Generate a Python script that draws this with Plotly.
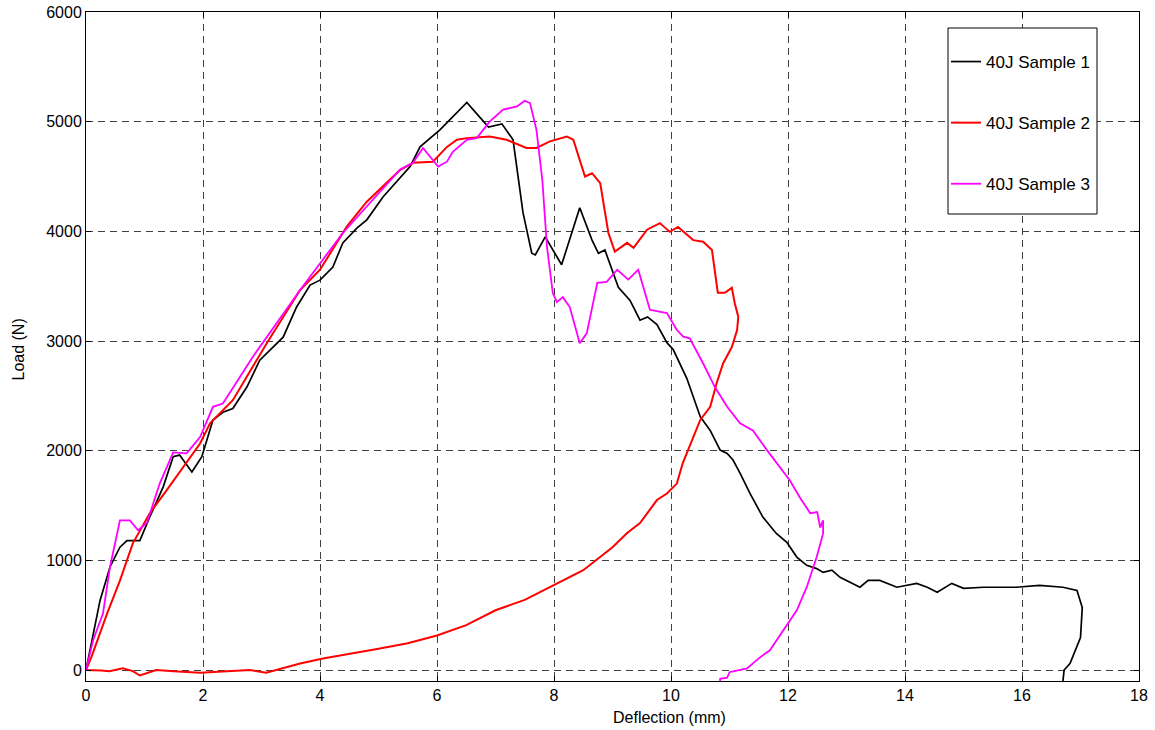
import plotly.graph_objects as go

# ---- data ----
s1_x = [0, 0.12, 0.24, 0.41, 0.58, 0.7, 0.92, 1.09, 1.32, 1.49, 1.6, 1.81, 1.98, 2.17, 2.34, 2.51, 2.75,
        2.97, 3.2, 3.37, 3.6, 3.83, 4.0, 4.22, 4.39, 4.63, 4.8, 5.08, 5.54, 5.71, 6.05, 6.3, 6.51, 6.7,
        6.88, 7.11, 7.3, 7.47, 7.62, 7.68, 7.85, 8.13, 8.44, 8.65, 8.76, 8.87, 9.1, 9.3, 9.47, 9.6, 9.76,
        9.93, 10.04, 10.27, 10.5, 10.67, 10.84, 10.96, 11.06, 11.18, 11.35, 11.57, 11.8, 11.98, 12.15,
        12.32, 12.49, 12.6, 12.75, 12.89, 13.06, 13.23, 13.37, 13.57, 13.86, 14.2, 14.38, 14.55, 14.8,
        15.0, 15.34, 15.9, 16.3, 16.7, 16.94, 17.03, 17.0, 16.82, 16.72, 16.7]
s1_y = [0, 330, 635, 940, 1120, 1180, 1180, 1395, 1670, 1945, 1960, 1805, 1945, 2280, 2350, 2385, 2580,
        2825, 2945, 3035, 3310, 3510, 3555, 3675, 3895, 4030, 4105, 4315, 4590, 4770, 4925, 5060, 5175, 5060,
        4950, 4980, 4835, 4170, 3800, 3785, 3950, 3695, 4215, 3920, 3800, 3830, 3490, 3370, 3190, 3220, 3150,
        2985, 2920, 2660, 2310, 2185, 2005, 1975, 1915, 1795, 1610, 1395, 1245, 1165, 1030,
        955, 925, 890, 910, 845, 800, 755, 817, 817, 755, 790, 755, 710, 790,
        745, 755, 755, 772, 755, 725, 570, 297, 60, 0, -100]

s2_x = [0, 0.1, 0.36, 0.58, 0.8, 1.09, 1.38, 1.66, 1.95, 2.12, 2.51, 3.09, 3.66, 4.0, 4.46, 4.8, 5.37,
        5.59, 5.93, 6.17, 6.34, 6.51, 6.9, 7.19, 7.53, 7.7, 7.93, 8.22, 8.33, 8.53, 8.65, 8.79, 8.93,
        9.04, 9.25, 9.36, 9.59, 9.81, 9.98, 10.12, 10.38, 10.55, 10.7, 10.8, 10.92, 11.04, 11.09, 11.15,
        11.13, 11.04, 10.89, 10.78, 10.67, 10.5, 10.38, 10.2, 10.1, 9.93, 9.76, 9.47, 9.25, 9.0, 8.5,
        8.0, 7.5, 7.0, 6.5, 6.0, 5.5, 5.0, 4.5, 4.05, 3.66, 3.08, 2.8, 2.5, 1.95, 1.5, 1.2, 0.92, 0.8,
        0.63, 0.4, 0.26, 0]
s2_y = [0, 130, 515, 815, 1155, 1430, 1640, 1850, 2065, 2250, 2460, 2980, 3465, 3650, 4045, 4270, 4560,
        4625, 4635, 4770, 4835, 4850, 4865, 4835, 4760, 4760, 4820, 4865, 4835, 4500, 4530, 4440, 3985,
        3815, 3895, 3850, 4015, 4075, 3995, 4040, 3920, 3905, 3830, 3440, 3440, 3485, 3345, 3220,
        3100, 2945, 2795, 2615, 2400, 2280, 2125, 1885, 1700, 1610, 1550, 1340, 1250, 1120, 910,
        775, 640, 545, 410, 315, 245, 195, 150, 105, 60, -25, 0, -10, -25, -10, 0, -50, -10,
        15, -10, -5, 0]

s3_x = [0, 0.12, 0.29, 0.41, 0.58, 0.75, 0.89, 1.04, 1.26, 1.49, 1.72, 1.95, 2.17, 2.34, 2.85, 3.66,
        4.39, 4.8, 5.37, 5.59, 5.76, 6.02, 6.17, 6.27, 6.51, 6.68, 6.9, 7.13, 7.37, 7.5, 7.59, 7.7, 7.8,
        7.88, 7.98, 8.05, 8.15, 8.27, 8.44, 8.56, 8.74, 8.9, 9.08, 9.27, 9.44, 9.64, 9.93, 10.1, 10.21,
        10.32, 10.55, 10.75, 10.96, 11.18, 11.4, 11.64, 11.86, 12.03, 12.2, 12.38, 12.5, 12.55, 12.6,
        12.6, 12.49, 12.32, 12.15, 11.92, 11.69, 11.52, 11.3, 11.0, 10.96, 10.84, 10.84]
s3_y = [0, 270, 515, 940, 1365, 1365, 1275, 1340, 1700, 1985, 1975, 2125, 2400, 2430, 2855, 3465,
        3985, 4225, 4565, 4625, 4760, 4590, 4635, 4725, 4835, 4850, 5000, 5110, 5140, 5190, 5170, 4925, 4470,
        3860, 3435, 3355, 3400, 3310, 2980, 3070, 3530, 3540, 3650, 3560, 3650, 3285, 3255, 3100, 3040,
        3025, 2795, 2580, 2400, 2250, 2185, 2005, 1850, 1730, 1575, 1430, 1440, 1300, 1365,
        1245, 1030, 755, 545, 360, 180, 115, 15, -20, -70, -80, -100]

names = ["40J Sample 1", "40J Sample 2", "40J Sample 3"]
colors = ["#000000", "#FF0000", "#FF00FF"]
widths = [1.7, 2.0, 1.8]
x_ticks = list(range(0, 19, 2))
y_ticks = list(range(0, 6001, 1000))
x_title = "Deflection (mm)"
y_title = "Load (N)"

FONT = "Liberation Sans, Arial, Helvetica, sans-serif"

fig = go.Figure()
for i, (xs, ys) in enumerate([(s1_x, s1_y), (s2_x, s2_y), (s3_x, s3_y)]):
    fig.add_trace(go.Scatter(x=xs, y=ys, mode="lines", name=names[i],
                             legendgroup=f"g{i}",
                             line=dict(color=colors[i], width=widths[i])))

W, H = 1155, 730
L, R, T, B = 86, 16, 12, 49
pw, ph = W - L - R, H - T - B

def px_x(p):
    return (p - L) / pw

def px_y(p):
    return (H - B - p) / ph

axis_common = dict(showline=True, linecolor="black", linewidth=1, mirror="ticks",
                   ticks="inside", ticklen=5, tickcolor="black",
                   showgrid=True, gridcolor="#404040", gridwidth=1, griddash="7px,5px",
                   zeroline=False, tickfont=dict(family=FONT, size=16, color="black"))

fig.update_layout(
    width=W, height=H,
    margin=dict(l=L, r=R, t=T, b=B, autoexpand=False),
    paper_bgcolor="white", plot_bgcolor="white",
    font=dict(family=FONT, color="black"),
    xaxis=dict(range=[0, 18], tickvals=x_ticks, **axis_common),
    yaxis=dict(range=[-100, 6000], tickvals=y_ticks, **axis_common),
    showlegend=True,
    legend=dict(x=px_x(946), y=px_y(44), xanchor="left", yanchor="top",
                bgcolor="rgba(0,0,0,0)", borderwidth=0,
                tracegroupgap=36, font=dict(family=FONT, size=17, color="black")),
    shapes=[dict(type="rect", xref="paper", yref="paper",
                 x0=px_x(948), x1=px_x(1097), y0=px_y(214), y1=px_y(28),
                 line=dict(color="black", width=1), fillcolor="white", layer="above")],
    annotations=[
        dict(text=x_title, xref="paper", yref="paper", x=px_x(669), y=px_y(717),
             xanchor="center", yanchor="middle", showarrow=False,
             font=dict(family=FONT, size=16, color="black")),
        dict(text=y_title, xref="paper", yref="paper", x=px_x(17.5), y=px_y(350),
             xanchor="center", yanchor="middle", showarrow=False, textangle=-90,
             font=dict(family=FONT, size=16, color="black")),
    ],
)

fig.write_html("out.html")
